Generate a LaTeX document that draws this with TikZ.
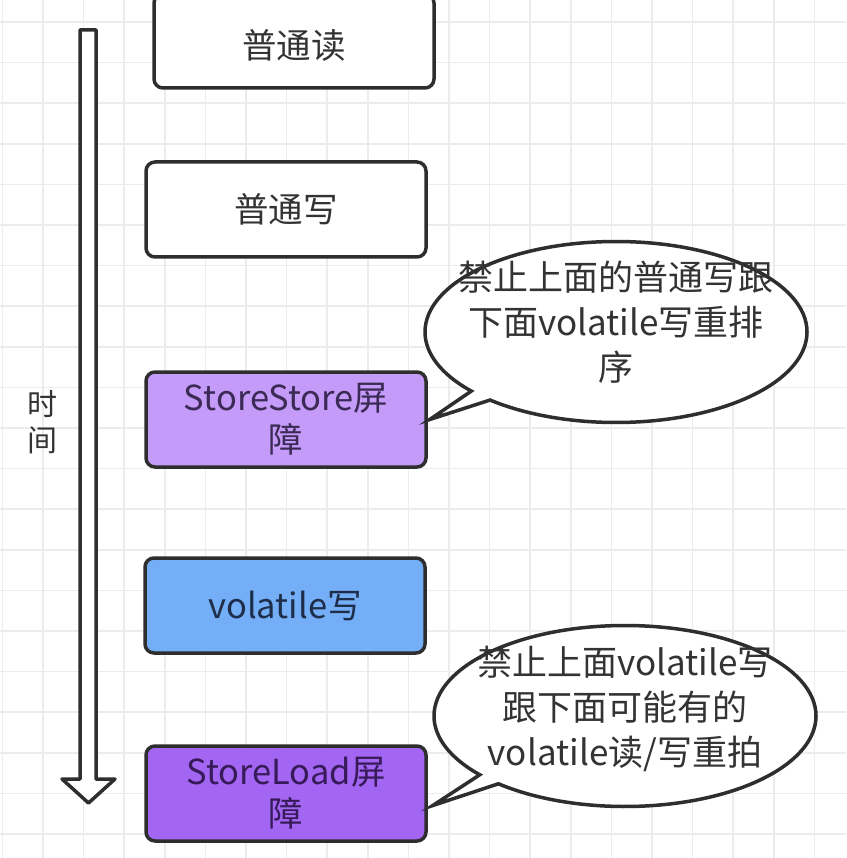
\documentclass[tikz,border=0pt]{standalone}
\usepackage{fontspec}
\setmainfont{Noto Sans CJK SC}
\usetikzlibrary{shapes.callouts}
\definecolor{gridc}{HTML}{ECECEC}
\definecolor{linec}{HTML}{2E2E2E}
\definecolor{textc}{HTML}{333333}
\definecolor{ssfill}{HTML}{C49BF8}
\definecolor{ssText}{HTML}{3A2A55}
\definecolor{vwfill}{HTML}{74AEF7}
\definecolor{vwText}{HTML}{1E2E4A}
\definecolor{slfill}{HTML}{A366F2}
\definecolor{slText}{HTML}{361A5A}
\begin{document}
\begin{tikzpicture}[x=1pt,y=-1pt,
  box/.style={draw=linec, line width=3.5pt, rounded corners=9pt, minimum width=280pt,
    minimum height=95pt, inner sep=0pt, align=center,
    font=\fontsize{34.5}{42}\selectfont, text=textc},
  bubble/.style={ellipse callout, draw=linec, fill=white, line width=3.5pt,
    minimum width=382pt, minimum height=181pt, inner sep=0pt, callout pointer arc=8},
  bubbletext/.style={align=center, text=textc, inner sep=0pt,
    font=\fontsize{35}{45}\selectfont},
  timelabel/.style={align=center, text=textc, font=\fontsize{30}{36}\selectfont}]
\useasboundingbox (0,0) rectangle (846,858);
\clip (0,0) rectangle (846,858);
\fill[white] (0,0) rectangle (846,858);
% grid
\foreach \k in {0,...,20} {
  \draw[gridc, line width=1.6pt] ({43+40.6*\k},0) -- ({43+40.6*\k},858);
  \draw[gridc, line width=1.6pt] (0,{22+40.6*\k}) -- (846,{22+40.6*\k});
}
\draw[gridc, line width=1.6pt] (2.4,0) -- (2.4,858);
% boxes
\node[box, fill=white, minimum width=280pt, minimum height=94pt, text height=38pt] (r1) at (294,41) {普通读};
\node[box, fill=white, minimum width=280pt] (r2) at (286,209.5) {普通写};
\node[box, fill=ssfill, text=ssText, minimum height=95pt] (r3) at (286,419.5) {StoreStore屏\\障};
\node[box, fill=vwfill, text=vwText] (r4) at (285,605.5) {volatile写};
\node[box, fill=slfill, text=slText] (r5) at (286,793.5) {StoreLoad屏\\障};
% time arrow
\draw[linec, line width=3.5pt, line join=round, fill=white]
  (80,30) -- (96,30) -- (96,779) -- (115,779) -- (88.5,803) -- (62,779) -- (80,779) -- cycle;
\node[timelabel] (t) at (42,422) {时\\间};
% callouts
\node[bubble, callout absolute pointer={([xshift=2pt]r3.east)}] (c1) at (616,332) {};
\node[bubbletext] (c1t) at (616,322) {禁止上面的普通写跟\\下面volatile写重排\\序};
\node[bubble, callout absolute pointer={([xshift=5pt,yshift=-12pt]r5.east)}] (c2) at (625,716) {};
\node[bubbletext] (c2t) at (625,709) {禁止上面volatile写\\跟下面可能有的\\volatile读/写重拍};
\end{tikzpicture}
\end{document}
